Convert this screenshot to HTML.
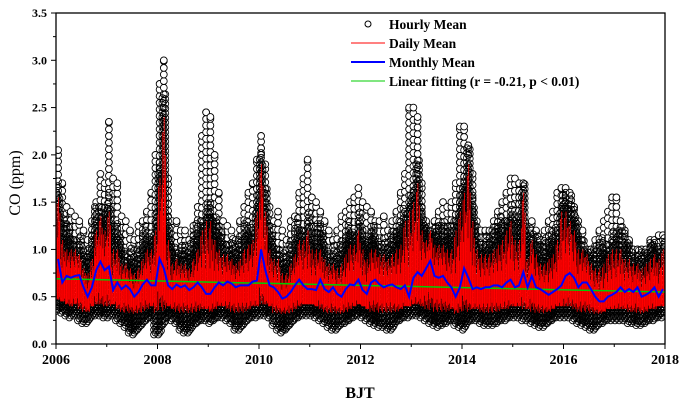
<!DOCTYPE html>
<html><head><meta charset="utf-8"><style>
body{margin:0;background:#fff}
svg{display:block;font-family:"Liberation Serif",serif;font-weight:bold}
</style></head><body>
<svg id="chart" width="690" height="406">
<g id="marks"></g>
<g id="axes"></g>
<g id="legend">
 <g><circle cx="368" cy="24" r="3" fill="#fff" stroke="#000" stroke-width="1"/><text x="389" y="29" font-size="13.5">Hourly Mean</text></g>
 <g><line x1="351" y1="43" x2="385" y2="43" stroke="#f00"/><text x="389" y="48" font-size="13.5">Daily Mean</text></g>
 <g><line x1="351" y1="62" x2="385" y2="62" stroke="#00f" stroke-width="2"/><text x="389" y="67" font-size="13.5">Monthly Mean</text></g>
 <g><line x1="351" y1="81" x2="385" y2="81" stroke="#0c0"/><text x="389" y="86" font-size="13.5">Linear fitting (r = -0.21, p &lt; 0.01)</text></g>
</g>
</svg>
<script>
const yearTicks=[2006,2008,2010,2012,2014,2016,2018];
const yTicks=[0.0,0.5,1.0,1.5,2.0,2.5,3.0,3.5];
const monthlyMean=[
0.90,0.65,0.72,0.70,0.72,0.73,0.60,0.50,0.60,0.78,0.87,0.78,
0.82,0.57,0.65,0.58,0.62,0.58,0.50,0.55,0.63,0.68,0.62,0.62,
0.90,0.80,0.62,0.58,0.63,0.60,0.62,0.57,0.60,0.65,0.60,0.53,
0.53,0.60,0.65,0.62,0.66,0.64,0.60,0.62,0.62,0.62,0.66,0.67,
1.00,0.78,0.62,0.60,0.55,0.48,0.50,0.55,0.62,0.68,0.62,0.58,
0.58,0.57,0.68,0.58,0.55,0.60,0.53,0.50,0.58,0.63,0.62,0.68,
0.57,0.53,0.65,0.68,0.63,0.60,0.62,0.63,0.60,0.58,0.62,0.50,
0.70,0.76,0.72,0.80,0.88,0.72,0.70,0.72,0.65,0.60,0.50,0.60,
0.80,0.70,0.58,0.60,0.58,0.60,0.60,0.62,0.62,0.60,0.65,0.68,
0.60,0.62,0.76,0.60,0.72,0.60,0.58,0.55,0.52,0.55,0.58,0.62,
0.72,0.75,0.70,0.60,0.65,0.65,0.58,0.50,0.45,0.45,0.50,0.52,
0.55,0.60,0.55,0.58,0.55,0.60,0.50,0.52,0.55,0.60,0.50,0.58];
const hourlyMax=[
2.05,1.70,1.45,1.40,1.35,1.30,1.20,1.10,1.30,1.50,1.80,1.70,
2.35,1.75,1.70,1.35,1.30,1.20,1.10,1.25,1.30,1.40,1.60,2.00,
2.75,3.00,1.75,1.30,1.30,1.20,1.20,1.10,1.25,1.45,2.20,2.45,
2.40,2.00,1.60,1.30,1.25,1.20,1.10,1.30,1.45,1.60,1.70,1.95,
2.20,1.90,1.45,1.30,1.40,1.20,1.10,1.30,1.35,1.60,1.75,1.95,
1.55,1.50,1.40,1.30,1.20,1.10,1.20,1.35,1.40,1.50,1.55,1.65,
1.50,1.45,1.40,1.30,1.30,1.35,1.20,1.30,1.40,1.60,1.80,2.50,
2.50,2.40,1.70,1.30,1.20,1.30,1.40,1.50,1.45,1.50,1.70,2.30,
2.30,2.10,1.80,1.30,1.20,1.20,1.20,1.30,1.40,1.50,1.60,1.75,
1.75,1.70,1.70,1.20,1.30,1.20,1.10,1.20,1.30,1.40,1.60,1.65,
1.65,1.60,1.45,1.30,1.20,1.00,1.00,1.10,1.20,1.30,1.40,1.55,
1.55,1.30,1.20,1.10,1.00,1.00,1.00,1.00,1.10,1.10,1.15,1.15];
const hourlyMin=[
0.35,0.33,0.30,0.28,0.30,0.25,0.22,0.22,0.28,0.30,0.30,0.28,
0.28,0.30,0.25,0.22,0.18,0.12,0.10,0.15,0.20,0.25,0.28,0.10,
0.10,0.20,0.28,0.25,0.22,0.15,0.12,0.12,0.18,0.22,0.25,0.25,
0.22,0.25,0.28,0.28,0.25,0.22,0.15,0.15,0.20,0.25,0.28,0.28,
0.30,0.30,0.28,0.20,0.15,0.12,0.15,0.20,0.25,0.28,0.30,0.30,
0.30,0.28,0.25,0.22,0.18,0.15,0.15,0.20,0.22,0.25,0.28,0.30,
0.28,0.25,0.22,0.20,0.18,0.18,0.15,0.15,0.22,0.25,0.28,0.28,
0.30,0.30,0.28,0.25,0.22,0.20,0.18,0.20,0.22,0.25,0.20,0.18,
0.15,0.22,0.25,0.25,0.22,0.20,0.20,0.20,0.22,0.25,0.25,0.28,
0.28,0.28,0.25,0.25,0.22,0.20,0.18,0.18,0.22,0.25,0.28,0.28,
0.28,0.28,0.25,0.22,0.20,0.18,0.15,0.15,0.20,0.22,0.25,0.25,
0.25,0.25,0.25,0.22,0.22,0.20,0.20,0.22,0.25,0.25,0.28,0.28];
const dailyMax=[
1.55,1.10,1.00,1.00,1.00,0.95,0.80,0.75,0.90,1.20,1.35,1.20,
1.40,1.00,1.00,0.85,0.85,0.80,0.75,0.80,0.90,1.00,1.00,1.20,
1.75,2.40,1.10,0.85,0.90,0.85,0.85,0.80,0.90,1.00,1.20,1.30,
1.30,1.10,1.00,0.95,0.95,0.90,0.85,0.90,1.00,1.05,1.10,1.40,
1.90,1.40,1.00,0.90,0.90,0.75,0.75,0.85,0.95,1.10,1.10,1.20,
1.00,1.00,1.00,0.90,0.85,0.85,0.80,0.85,0.95,1.05,1.05,1.20,
1.00,0.90,1.00,1.00,0.95,0.95,0.90,0.95,1.00,1.05,1.30,1.40,
1.50,1.70,1.20,1.10,1.20,1.05,1.05,1.05,1.00,1.00,1.20,1.40,
1.60,1.90,1.30,1.00,0.95,0.95,0.95,1.00,1.05,1.10,1.20,1.30,
1.10,1.10,1.60,0.90,1.10,0.95,0.85,0.85,0.90,0.95,1.10,1.40,
1.40,1.30,1.20,1.00,1.00,0.95,0.85,0.80,0.80,0.85,0.95,1.00,
1.00,1.00,0.90,0.90,0.85,0.85,0.80,0.85,0.90,0.95,0.90,1.00];
const fitStart=0.69, fitEnd=0.55;

const NS="http://www.w3.org/2000/svg";
const X0=56,X1=665,Y0=344,Y1=13;
const xScale=t=>X0+(t-2006)/12*(X1-X0);
const yScale=v=>Y0-v/3.5*(Y0-Y1);
const marks=document.getElementById('marks');
const axes=document.getElementById('axes');
function mk(tag,attrs,parent){const e=document.createElementNS(NS,tag);for(const k in attrs)e.setAttribute(k,attrs[k]);parent.appendChild(e);return e;}

const defs=mk('defs',{},marks);
const cp=mk('clipPath',{id:'pc'},defs);
mk('rect',{x:X0,y:Y1,width:X1-X0,height:Y0-Y1},cp);
const hourlyG=mk('g',{'clip-path':'url(#pc)'},marks);


const dailyG=mk('g',{'clip-path':'url(#pc)'},marks);



const jig=[0,0.12,-0.06,0.18,0.05,-0.1];
let outer='',core='';
for(let i=0;i<monthlyMean.length;i++){
  const t0=2006+i/12;
  const lo=hourlyMin[i],hi=hourlyMax[i],c=dailyMax[i]+0.1;
  const xc=xScale(t0+0.5/12);
  for(let v=c;v<=hi;v+=0.07){outer+=`<circle cx="${xc.toFixed(1)}" cy="${yScale(v).toFixed(1)}" r="3.4"/>`;}
  outer+=`<circle cx="${xc.toFixed(1)}" cy="${yScale(hi).toFixed(1)}" r="3.4"/>`;
  for(let k=0;k<3;k++){
    const x=xScale(t0+(k+0.5)/36);
    const top=Math.min(c+jig[(i+k)%6],hi);
    for(let v=lo+0.02*k;v<=top;v+=0.05){core+=`<circle cx="${x.toFixed(1)}" cy="${yScale(v).toFixed(1)}" r="3.4"/>`;}
  }
}
hourlyG.innerHTML=`<g fill="#fff" stroke="#000" stroke-width="0.9">${outer}</g><g fill="none" stroke="#000" stroke-width="0.85">${core}</g>`;

let red='';
const pat=[0.55,0.9,0.35,1.0,0.6,0.75];
for(let i=0;i<monthlyMean.length;i++){
  const m=monthlyMean[i],top=dailyMax[i];
  for(let k=0;k<6;k++){
    const x=xScale(2006+i/12+(k+0.5)/72);
    const hiV=m+(top-m)*pat[k];
    const loV=Math.max(hourlyMin[i]+0.12,m-(m-0.3)*(0.4+0.5*pat[(k+2)%6]));
    red+=`<line x1="${x.toFixed(1)}" x2="${x.toFixed(1)}" y1="${yScale(loV).toFixed(1)}" y2="${yScale(hiV).toFixed(1)}"/>`;
  }
}
dailyG.innerHTML=`<g stroke="#f00" stroke-width="0.8">${red}</g>`;

const fit=mk('line',{x1:xScale(2006),y1:yScale(fitStart),x2:xScale(2018),y2:yScale(fitEnd),stroke:'#0c0','stroke-width':1.5},marks);



const pts=monthlyMean.map((v,i)=>xScale(2006+(i+0.5)/12).toFixed(1)+','+yScale(v).toFixed(1)).join(' ');
const ml=mk('polyline',{points:pts,fill:'none',stroke:'#00f','stroke-width':2},marks);



const fr=mk('rect',{x:X0,y:Y1,width:X1-X0,height:Y0-Y1,fill:'none',stroke:'#000','stroke-width':1.3},axes);



yearTicks.forEach(yr=>{
  const x=xScale(yr);
  mk('line',{x1:x,x2:x,y1:Y0,y2:Y0+5,stroke:'#000'},axes);
  const t=mk('text',{x:x,y:Y0+20,'text-anchor':'middle','font-size':14},axes);
  t.textContent=yr;
  
  
});
for(let yr=2007;yr<2018;yr+=2){const x=xScale(yr);mk('line',{x1:x,x2:x,y1:Y0,y2:Y0+3,stroke:'#000'},axes);}
yTicks.forEach(v=>{
  const y=yScale(v);
  mk('line',{x1:X0-5,x2:X0,y1:y,y2:y,stroke:'#000'},axes);
  const t=mk('text',{x:X0-9,y:y+4,'text-anchor':'end','font-size':12},axes);
  t.textContent=v.toFixed(1);
  
  
});
for(let v=0.25;v<3.5;v+=0.5){const y=yScale(v);mk('line',{x1:X0-3,x2:X0,y1:y,y2:y,stroke:'#000'},axes);}
const xt=mk('text',{x:360,y:398,'text-anchor':'middle','font-size':16},axes);
xt.textContent='BJT';


const yt=mk('text',{x:0,y:0,'text-anchor':'middle','font-size':16,'font-weight':'normal',transform:'translate(20,183) rotate(-90)'},axes);
yt.textContent='CO (ppm)';


</script>
</body></html>
